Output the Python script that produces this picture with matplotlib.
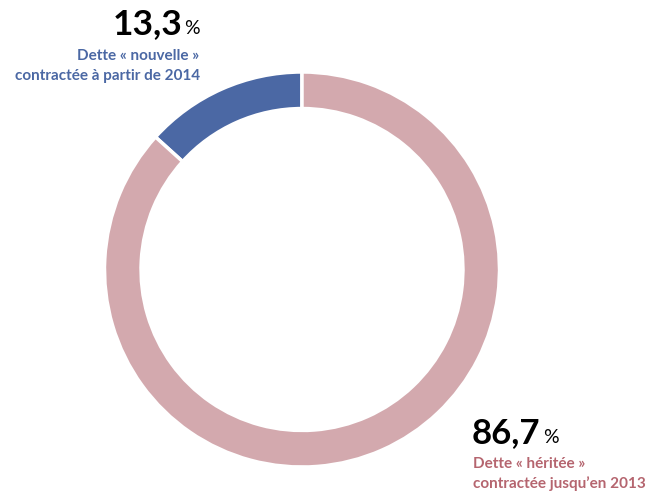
import matplotlib.pyplot as plt

# values (percent)
labels = ["Dette « nouvelle »\ncontractée à partir de 2014",
          "Dette « héritée »\ncontractée jusqu’en 2013"]
shares = [13.3, 86.7]
share_text = ["13,3", "86,7"]

ring_colors = ["#4b68a4", "#d3a9ae"]
text_colors = ["#4b68a4", "#b5656f"]

W, H = 646, 497
plt.rcParams['font.family'] = ['Lato', 'DejaVu Sans']

fig = plt.figure(figsize=(W / 100, H / 100), dpi=100)

# ring: centre and radius in pixels
cx, cy, r = 302, 269.5, 197.5
ax = fig.add_axes([(cx - r) / W, (H - cy - r) / H, 2 * r / W, 2 * r / H])
ax.pie(shares, colors=ring_colors, startangle=90, counterclock=True,
       radius=1, wedgeprops=dict(width=0.185, edgecolor="white", linewidth=2.5))
ax.set_xlim(-1, 1)
ax.set_ylim(-1, 1)
ax.set_aspect("equal")
ax.axis("off")


def px(x, y):
    return x / W, 1 - y / H


# top-left label (new debt)
fig.text(*px(182, 34), share_text[0], ha="right", va="baseline",
         fontsize=25.5, fontweight="bold", color="black")
fig.text(*px(184, 34), "%", ha="left", va="baseline", fontsize=14, color="black")
line1, line2 = labels[0].split("\n")
fig.text(*px(199, 60), line1, ha="right", va="baseline",
         fontsize=11, fontweight="bold", color=text_colors[0])
fig.text(*px(200, 80), line2, ha="right", va="baseline",
         fontsize=11, fontweight="bold", color=text_colors[0])

# bottom-right label (inherited debt)
fig.text(*px(472, 443), share_text[1], ha="left", va="baseline",
         fontsize=25, fontweight="bold", color="black")
fig.text(*px(543, 443), "%", ha="left", va="baseline", fontsize=14, color="black")
line1, line2 = labels[1].split("\n")
fig.text(*px(473, 468), line1, ha="left", va="baseline",
         fontsize=11, fontweight="bold", color=text_colors[1])
fig.text(*px(473, 488), line2, ha="left", va="baseline",
         fontsize=11, fontweight="bold", color=text_colors[1])

fig.savefig("out.png", dpi=100)
